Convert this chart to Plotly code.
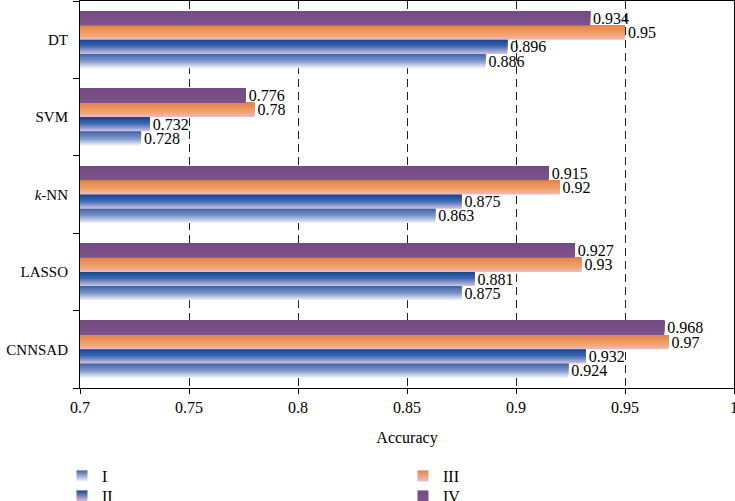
import plotly.graph_objects as go

# ---------------- data ----------------
categories = ["CNNSAD", "LASSO", "<i>k</i>-NN", "SVM", "DT"]
series_names = ["I", "II", "III", "IV"]
vals_I = [0.924, 0.875, 0.863, 0.728, 0.886]
vals_II = [0.932, 0.881, 0.875, 0.732, 0.896]
vals_III = [0.97, 0.93, 0.92, 0.78, 0.95]
vals_IV = [0.968, 0.927, 0.915, 0.776, 0.934]
x_ticks = [0.7, 0.75, 0.8, 0.85, 0.9, 0.95, 1.0]
x_tick_labels = ["0.7", "0.75", "0.8", "0.85", "0.9", "0.95", "1"]

# ---------------- styles ----------------
FONT = "Liberation Serif"
# gradient stops: (position from top, rgb)
grad_I = [(0.0, (66, 100, 168)), (0.5, (125, 150, 202)), (1.0, (242, 244, 250))]
grad_II = [(0.0, (20, 70, 150)), (0.45, (62, 102, 176)), (0.8, (150, 165, 212)), (1.0, (228, 192, 216))]
grad_III = [(0.0, (228, 132, 74)), (0.5, (240, 156, 96)), (0.8, (240, 172, 140)), (1.0, (238, 188, 202))]
grad_IV = [(0.0, (118, 74, 130)), (1.0, (126, 84, 140))]

series = [
    ("I", vals_I, grad_I),
    ("II", vals_II, grad_II),
    ("III", vals_III, grad_III),
    ("IV", vals_IV, grad_IV),
]
# legend placement (container px): one legend per entry, 2 columns
legend_pos = {"I": (62, 459), "II": (62, 479), "III": (403, 459), "IV": (403, 479)}
legend_ids = {"I": "legend", "II": "legend2", "III": "legend3", "IV": "legend4"}


def interp(stops, t):
    for (t0, c0), (t1, c1) in zip(stops[:-1], stops[1:]):
        if t0 <= t <= t1:
            f = 0 if t1 == t0 else (t - t0) / (t1 - t0)
            c = [round(a + (b - a) * f) for a, b in zip(c0, c1)]
            return "rgb(%d,%d,%d)" % tuple(c)
    return "rgb(%d,%d,%d)" % stops[-1][1]


GROUP = 0.735
H = GROUP / 4
N = 14
W, HT = 735, 501

fig = go.Figure()

for i, (name, vals, stops) in enumerate(series):
    off0 = -GROUP / 2 + i * H
    for k in range(N):
        t = 1 - (k + 0.5) / N
        fig.add_trace(go.Bar(
            x=vals, y=categories, orientation="h", base=0,
            offset=off0 + k * H / N, width=H * (N - k) / N,
            marker=dict(color=interp(stops, t), line=dict(width=0)),
            showlegend=False, hoverinfo="skip",
        ))

for i, (name, vals, stops) in enumerate(series):
    off0 = -GROUP / 2 + i * H
    fig.add_trace(go.Bar(
        x=vals, y=categories, orientation="h", base=0,
        offset=off0, width=H,
        marker=dict(color="rgba(0,0,0,0)", line=dict(width=0)),
        text=[str(v) for v in vals], textposition="outside",
        textfont=dict(family=FONT, size=16, color="black"),
        constraintext="none", cliponaxis=False,
        showlegend=False, hoverinfo="skip",
    ))

legends = {}
for i, (name, vals, stops) in enumerate(series):
    lid = legend_ids[name]
    fig.add_trace(go.Scatter(
        x=[None], y=[None], mode="markers", name=name, legend=lid,
        marker=dict(symbol="square", size=11, color=interp(stops, 0.0),
                    gradient=dict(type="vertical", color=interp(stops, 1.0)),
                    line=dict(width=0)),
    ))
    px, py = legend_pos[name]
    legends[lid] = dict(
        x=px / W, y=1 - py / HT, xref="container", yref="container",
        xanchor="left", yanchor="top", bgcolor="rgba(0,0,0,0)",
        orientation="h",
        font=dict(family=FONT, size=16, color="black"),
    )

fig.update_layout(
    width=W, height=HT,
    margin=dict(l=80, r=1, t=1, b=113, autoexpand=False),
    paper_bgcolor="white", plot_bgcolor="white",
    barmode="overlay",
    font=dict(family=FONT, size=16, color="black"),
    xaxis=dict(
        range=[0.7, 1.0], tickvals=x_ticks, ticktext=x_tick_labels,
        showgrid=True, gridcolor="#222", gridwidth=1.3, griddash="8px,5px",
        showline=True, linecolor="black", linewidth=1, mirror=True,
        ticks="outside", ticklen=5, tickcolor="black",
        zeroline=False, automargin=False, ticklabeloverflow="allow",
        title=dict(text="Accuracy", standoff=16, font=dict(family=FONT, size=16)),
        tickfont=dict(family=FONT, size=16),
    ),
    yaxis=dict(
        type="category", categoryorder="array", categoryarray=categories,
        range=[-0.5, 4.5], tickson="boundaries", automargin=False,
        showgrid=False, showline=True, linecolor="black", linewidth=1, mirror=True,
        ticks="outside", ticklen=6, tickcolor="black",
        tickfont=dict(family=FONT, size=15), ticklabelstandoff=8,
    ),
    **legends,
)

fig.write_html(
    "out.html",
    config={"displayModeBar": False},
    post_script="document.body.style.margin='0';document.body.style.overflow='hidden';",
)
